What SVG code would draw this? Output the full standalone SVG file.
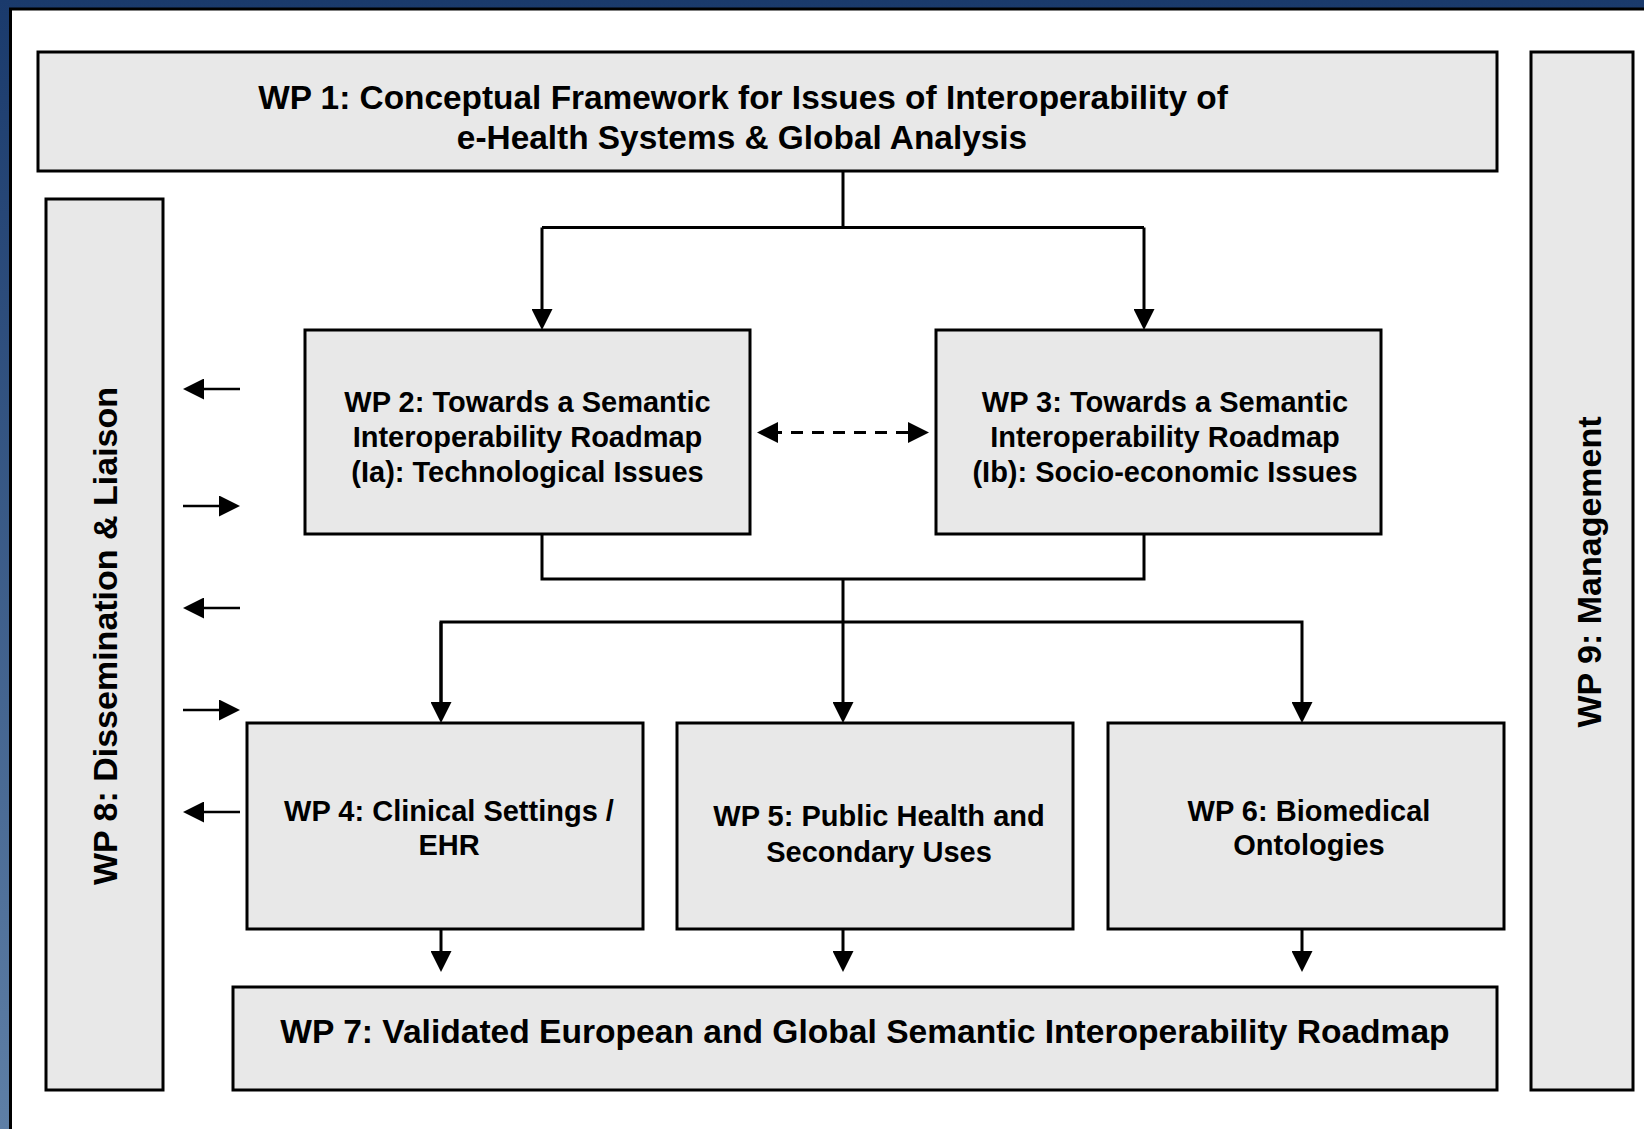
<svg xmlns="http://www.w3.org/2000/svg" width="1644" height="1129" viewBox="0 0 1644 1129">
<defs>
<linearGradient id="bg" x1="0" y1="0" x2="0" y2="1129" gradientUnits="userSpaceOnUse">
<stop offset="0" stop-color="#1a3a6c"/>
<stop offset="1" stop-color="#5e7fa6"/>
</linearGradient>
<marker id="ah" viewBox="0 0 21 21" refX="11" refY="10.5" markerWidth="21" markerHeight="21" markerUnits="userSpaceOnUse" orient="auto-start-reverse">
<path d="M0,0 L21,10.5 L0,21 z" fill="#000"/>
</marker>
</defs>
<style>
.box{fill:#e8e8e8;stroke:#000;stroke-width:3}
.t{font-family:"Liberation Sans",Arial,sans-serif;font-weight:bold;fill:#000;text-anchor:middle}
.big{font-size:33.4px}
.b7{font-size:33.6px}
.vt{font-size:34px}
.mid{font-size:29px}
.ln{fill:none;stroke:#000;stroke-width:3}
.sm{fill:none;stroke:#000;stroke-width:2.5}
</style>
<rect x="0" y="0" width="1644" height="1129" fill="url(#bg)"/>
<rect x="10.5" y="9" width="1700" height="1200" fill="#fff" stroke="#000" stroke-width="3"/>

<g id="wp1">
<rect class="box" x="38" y="52" width="1459" height="119"/>
<text class="t big" x="743" y="109">WP 1: Conceptual Framework for Issues of Interoperability of</text>
<text class="t big" x="742" y="149">e-Health Systems &amp; Global Analysis</text>
</g>
<g id="wp8">
<rect class="box" x="46" y="199" width="117" height="891"/>
<text class="t vt" transform="translate(117,636) rotate(-90)" x="0" y="0">WP 8: Dissemination &amp; Liaison</text>
</g>
<g id="wp9">
<rect class="box" x="1531" y="52" width="102" height="1038"/>
<text class="t vt" transform="translate(1601,572) rotate(-90)" x="0" y="0">WP 9: Management</text>
</g>
<g id="wp2">
<rect class="box" x="305" y="330" width="445" height="204"/>
<text class="t mid" x="527.5" y="412">WP 2: Towards a Semantic</text>
<text class="t mid" x="527.5" y="447">Interoperability Roadmap</text>
<text class="t mid" x="527.5" y="482">(Ia): Technological Issues</text>
</g>
<g id="wp3">
<rect class="box" x="936" y="330" width="445" height="204"/>
<text class="t mid" x="1165" y="412">WP 3: Towards a Semantic</text>
<text class="t mid" x="1165" y="447">Interoperability Roadmap</text>
<text class="t mid" x="1165" y="482">(Ib): Socio-economic Issues</text>
</g>
<g id="wp4">
<rect class="box" x="247" y="723" width="396" height="206"/>
<text class="t mid" x="449" y="821">WP 4: Clinical Settings /</text>
<text class="t mid" x="449" y="855">EHR</text>
</g>
<g id="wp5">
<rect class="box" x="677" y="723" width="396" height="206"/>
<text class="t mid" x="879" y="826">WP 5: Public Health and</text>
<text class="t mid" x="879" y="862">Secondary Uses</text>
</g>
<g id="wp6">
<rect class="box" x="1108" y="723" width="396" height="206"/>
<text class="t mid" x="1309" y="821">WP 6: Biomedical</text>
<text class="t mid" x="1309" y="855">Ontologies</text>
</g>
<g id="wp7">
<rect class="box" x="233" y="987" width="1264" height="103"/>
<text class="t b7" x="865" y="1043">WP 7: Validated European and Global Semantic Interoperability Roadmap</text>
</g>

<g id="connectors">
<path class="ln" d="M843,171 V227.5 M542,227.5 H1144"/>
<path class="ln" d="M542,227.5 V320" marker-end="url(#ah)"/>
<path class="ln" d="M1144,227.5 V320" marker-end="url(#ah)"/>
<path class="ln" d="M542,534 V579 H1144 V534"/>
<path class="ln" d="M843,579 V713" marker-end="url(#ah)"/>
<path class="ln" d="M441,713 V622 H1302 V713" marker-end="url(#ah)"/>
<path class="ln" d="M441,622 V713" marker-end="url(#ah)"/>
<path class="ln" d="M767,432.5 H919" stroke-width="3.5" stroke-dasharray="12,9" stroke-dashoffset="-3" marker-start="url(#ah)" marker-end="url(#ah)"/>
<path class="ln" d="M441,929 V962" marker-end="url(#ah)"/>
<path class="ln" d="M843,929 V962" marker-end="url(#ah)"/>
<path class="ln" d="M1302,929 V962" marker-end="url(#ah)"/>
<path class="sm" d="M240,389 H193" marker-end="url(#ah)"/>
<path class="sm" d="M183,506 H230" marker-end="url(#ah)"/>
<path class="sm" d="M240,608 H193" marker-end="url(#ah)"/>
<path class="sm" d="M183,710 H230" marker-end="url(#ah)"/>
<path class="sm" d="M240,812 H193" marker-end="url(#ah)"/>
</g>
</svg>
